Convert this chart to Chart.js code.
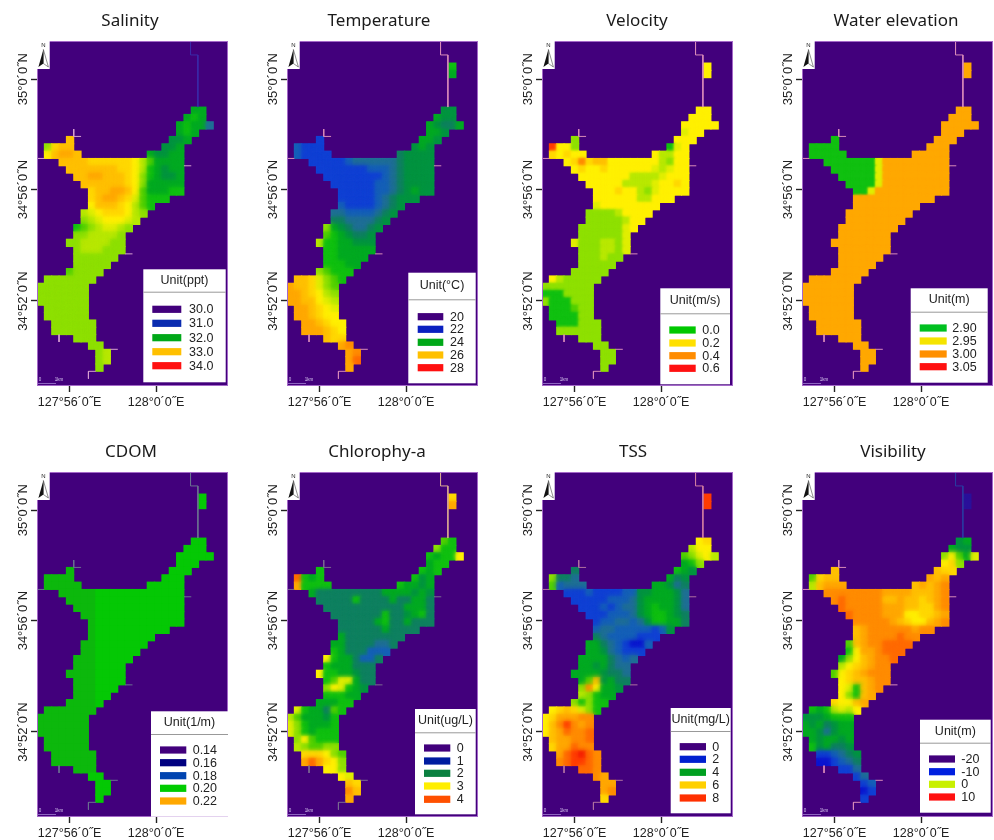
<!DOCTYPE html>
<html>
<head>
<meta charset="utf-8">
<script src="https://cdn.jsdelivr.net/npm/chart.js@4"></script>
<style>
html,body{margin:0;padding:0;background:#fff;width:994px;height:840px;overflow:hidden}
canvas{position:absolute;filter:blur(0.45px)}
</style>
</head>
<body>
<script>
const panelTitles = ['Salinity','Temperature','Velocity','Water elevation','CDOM','Chlorophy-a','TSS','Visibility'];
const lonTickCols = [4.43,16.2];
const lonTickLabels = ['127°56´0˝E','128°0´0˝E'];
const latTickRows = [5.2,20.25,35.42];
const latTickLabels = ['35°0´0˝N','34°56´0˝N','34°52´0˝N'];

// water cells: [row, firstCol, lastCol, (firstCol2, lastCol2)]
const waterSpans = [[3,22,22],[4,22,22],[9,21,22],[10,20,22],[11,19,23],[12,19,21],[13,4,4,18,20],[14,1,4,17,19],[15,1,5,15,19],
[16,3,19],[17,4,19],[18,5,19],[19,6,19],[20,7,19],[21,7,17],[22,7,15],[23,6,14],[24,6,13],[25,5,12],[26,5,11],[27,4,11],[28,5,11],
[29,5,10],[30,5,9],[31,4,8],[32,1,7],[33,0,6],[34,0,6],[35,0,6],[36,1,6],[37,1,6],[38,2,7],[39,2,7],[40,5,7],[41,7,8],[42,8,9],[43,8,9],[44,8,8]];

const salinityRows = ['.','.','HH','HIH','HIHHE','HIH','PGGH','KOPPGGH','NPQQPHGGHH',
'PPPPOOOOOONLJHHHH','PPPPPPPOONLIHGHH','PPQQPPPONKIHGGH','PPPPPPONKHHHHH','OPPQQPNJHHHII','OPQQPOMJIII','NPPPONLJI','LMNOOONLK','KLMNNNML',
'IJKLMMLK','KKLLLLK','KKLLLLKK','KLLLKKK','KKKKKK','KKKKK','JKKKK','KKKKKKK','KKKKKKK','KKKKKKK','KKKKKKK','KKKKKK','KKKKKK','KKKKKK','KKKKKK','KKK','KK','KL','KL','K'];
const temperatureRows = ['I','H','GG','HGG','HGFFH','HHG','CHHG','DCCCGHG','DCCCCFGGGG',
'CCCCCDEEEEEEFGGGG','CCCCCCCDDDEFGGGG','CCCCCCCCDEFGGGG','CCCCCCDDEFGGGG','CCCCCDDEFGHGG','CCCCCDEFGGG','DCCCCDEFG','EEDDDDEFG','FFEEEEFG',
'KHGFEEFG','JIHGFFG','LIIHHGGG','IIHHHHH','IIHHHH','IIIHH','KJIII','PPOMKJI','QPPOMKJ','QQPONLK','QQPPNML','QQPONM','QQPONN','QQPONN','QQQPON','POO','QR','QR','QS','Q'];
const velocityRows = ['N','N','NN','NNN','NNNNN','MNN','KNNN','TNNKIMN','ONONNNLLNN',
'NOROPPNNNNNNNLKNN','NONNONNNNNNMLMNN','NNNNNNNLLLLMNNN','NNNNNLLLLMNNON','NNNONNLKMNNNN','NNNNNNLLNNN','MNNNNNNNN','KKKKLNNNN','KKKKKLNN',
'KKKKKKMN','KKKKKKM','MKKKLLKM','KKKLLKM','KKKLKK','KKKKK','KKKKK','NLKKKKK','KKKKKKK','IIIKKKK','KIIIKKK','IIIJKK','IIIIKK','IIIKKK','KKKKKK','KKK','KK','KK','KK','K'];
const elevationRows = ['Q','Q','QQ','QQQ','QQQQQ','QQQ','IQQQ','IIIIQQQ','IIIIIQQQQQ',
'IIIIIIIMQQQQQQQQQ','IIIIIIMQQQQQQQQQ','IIIIIMQQQQQQQQQ','IIIIMQQQQQQQQQ','IIMQQQQQQQQQQ','QQQQQQQQQQQ','QQQQQQQQQ','QQQQQQQQQ','QQQQQQQQ',
'QQQQQQQQ','QQQQQQQ','QQQQQQQQ','QQQQQQQ','QQQQQQ','QQQQQ','QQQQQ','QQQQQQQ','QQQQQQQ','QQQQQQQ','QQQQQQQ','QQQQQQ','QQQQQQ','QQQQQQ','QQQQQQ','QQQ','QQ','QQ','QQ','Q'];
const cdomRows = ['W','W','WW','WWW','WWWWW','WWW','VWWW','VVVVWWW','VVVVVWWWWW',
'VVVVVWWWWWWWWWWWW','VVVVWWWWWWWWWWWW','VVVWWWWWWWWWWWW','VVWWWWWWWWWWWW','VWWWWWWWWWWWW','VWWWWWWWWWW','VWWWWWWWW','VVWWWWWWW','VVWWWWWW',
'VVVWWWWW','VVVWWWW','VVVVWWWW','VVVWWWW','VVVWWW','VVVWW','VVVVW','VVVVVVV','VVVVVVV','VVVVVVV','VVVVVVV','VVVVVV','VVVVVV','VVVVVV','VVVVVV','VVV','WW','WW','WW','W'];
const chlorophyllRows = ['O','Q','JI','KII','IHIIN','HII','IIHI','SIHIIGH','QIIIIIHHGH',
'HFFFFFFFFFHHHHGHG','FFFFFIFFFFHFFHHF','FFFFFFFFFFFHHHF','FFFFFFFIFFGHIF','FFFFFHIFFHFFF','FFFFFFHFFFF','HFFFFFFFF','HHFFFFEEF','IHFFFDDD',
'NIHHFDDF','IHHHFFF','NIIHHGFF','IJMMHFF','KNMIHG','IIIHH','HHHII','MIHHFJI','LJHHHGI','MKIHHHI','MKIHIII','KNJIII','LKJJKK','OOONKJ','QSQONK','NNK','NM','PO','RP','Q'];
const tssRows = ['T','T','NO','LNN','JKMNL','HIK','FIHG','KFFEHFG','JDEEEHHGEF',
'CCCDCCCCDDGGHHHGE','CCCCCDDDEGHHHHGE','CCCDCDEEGHIHHGE','CCCDDDEGHIIHGF','CDDEEDEGIIHHF','DEEDDDDDCDG','FEDDDDCCC','HHFEDCBBD','HHGEDCCC',
'HHHHFEDE','HHGHFEE','HHHHGFFE','HJPGHFF','KRNHHG','LKIHH','KIKII','NOPOMKI','NOQQQRR','NPRTRQR','NPQSRRS','PQQRRS','OQQSRR','QSTUSR','RSTTSR','SSR','RQ','QQ','QR','O'];
const visibilityRows = ['A','A','GH','HGG','KNJHM','NOK','PPOO','JOPPQPQ','LPQQQPQPQR',
'RRRRRRRRQQQQPPPQR','RSRRRRRPPQPPOPQR','SRRRRRQQQPPOOQR','SRRRRQQQNNOOPQ','RRRRRQPONNPQR','PQRRRRRRQRR','PQRRRRSRR','JPQRRSSSS','INQQRSSS',
'HKNPQRRS','LNOPQRR','JNOPQRRR','NOPPQRR','NMIPQR','NKIPQ','ONNPQ','IHILMLN','GGGHIII','HGHFGHH','HHGEGHH','HGHHGH','IGHFFG','CCDEFG','BBCDEF','CCE','CE','CD','BC','C'];

const salinityLegend = ['30.0','31.0','32.0','33.0','34.0'];
const temperatureLegend = ['20','22','24','26','28'];
const velocityLegend = ['0.0','0.2','0.4','0.6'];
const elevationLegend = ['2.90','2.95','3.00','3.05'];
const cdomLegend = ['0.14','0.16','0.18','0.20','0.22'];
const chlorophyllLegend = ['0','1','2','3','4'];
const tssLegend = ['0','2','4','6','8'];
const visibilityLegend = ['-20','-10','0','10'];

const legendUnits = ['Unit(ppt)','Unit(°C)','Unit(m/s)','Unit(m)','Unit(1/m)','Unit(ug/L)','Unit(mg/L)','Unit(m)'];

const ramp = {A:'#2a109a',B:'#0a14d0',C:'#1040d4',D:'#1560b8',E:'#1f6f96',F:'#0f8060',G:'#009440',H:'#00aa22',I:'#10c010',J:'#50d000',K:'#8ee000',
L:'#b8e800',M:'#e0ee00',N:'#fff000',O:'#ffd800',P:'#ffc000',Q:'#ffa800',R:'#ff8c00',S:'#ff6a00',T:'#ff3c00',U:'#f51a00',V:'#0cb80c',W:'#04c804'};
const mapPurple = '#42007c';

const legendColors = [
 ['#42007c','#0a2cb0','#00a818','#ffc000','#ff1010'],
 ['#42007c','#0a20c0','#00a818','#ffc000','#ff1010'],
 ['#00c800','#ffe000','#ff8c00','#ff1010'],
 ['#00c020','#f5e400','#ff9000','#ff1010'],
 ['#42007c','#000080','#0044b0','#00cc00','#ffa800'],
 ['#42007c','#001ca0','#0a8040','#ffee00','#ff5000'],
 ['#42007c','#0020d0','#00a020','#ffd000','#ff3000'],
 ['#42007c','#0020e0','#c8f000','#ff1010']
];

// river channel traces on the map grid
const topChannel = [[20.9,0],[20.9,1.9],[21.9,1.9],[21.9,9]];
const stubChannels = [[[0,16],[1,16]],[[5,12],[5,13],[6,13]],[[20,17],[21,17]],[[12,29],[13,29]],[[3,40],[3,41]],[[10,42],[11,42]],[[8,45],[7,45],[7,46]]];

const panelRows = [salinityRows,temperatureRows,velocityRows,elevationRows,cdomRows,chlorophyllRows,tssRows,visibilityRows];
const panelLegends = [salinityLegend,temperatureLegend,velocityLegend,elevationLegend,cdomLegend,chlorophyllLegend,tssLegend,visibilityLegend];

// layout
const plotLeft = [37,287,542,802,37,287,542,802];
const plotTop = [41,41,41,41,472,472,472,472];
const titleCenter = [130,379,637,896,131,377,633,893];
const blendBlur = [2.6,2.6,1.6,1.2,0.5,2,2.6,2.6];
const topChannelColor = ['#3a2aa8','#d88ab8','#d88ab8','#d88ab8','#6a7090','#d8a890','#d07ca0','#2a3aa0'];
const stubColor = ['#d8a0d0','#d88ab8','#d88ab8','#d88ab8','#6a7090','#7a6a90','#b070a0','#d88ab8'];
// legend boxes, page pixels: x0,x1,y0,y1,separator,swatchL,swatchR,labelX, row centres
const legendBoxes = [
 [143.3,225.7,269.3,382.3,291.7,152.3,181.3,189,[309.3,323.3,337.7,351.7,365.7]],
 [408.3,475.7,272.7,383.3,299.3,417.7,443.3,450,[316.7,329.3,342.3,355,367.7]],
 [660.3,730,288.3,384.3,313.3,669.3,695.7,702.3,[330,343,355.7,368.3]],
 [910.7,987.7,288.3,382.7,311.7,919.7,946.7,952.3,[328,341,354,366.7]],
 [151,228,711.3,816.7,734,160,186.3,192.7,[750,762.7,775.7,788.3,801]],
 [415,475.7,709,814.3,732.3,424,450.3,456.7,[748,761,773.3,786,799.3]],
 [670.7,730.7,708,813.3,731,679.7,706,712.3,[746.7,759.3,772.3,785,798]],
 [920,990.7,719.7,812.7,742.7,929,955,961.3,[759,771.7,784.3,797]]
];

const fontSans = '"Liberation Sans", Arial, sans-serif';
const titleFont = '"Noto Sans", sans-serif';

function cellsFor(rows){
  const pts=[];
  waterSpans.forEach((span,i)=>{
    const s=rows[i]||''; let k=0; const r=span[0];
    for(let j=1;j<span.length;j+=2){
      for(let c=span[j];c<=span[j+1];c++){
        const code=s[Math.min(k,s.length-1)]; k++;
        if(code && code!=='.') pts.push({x:c+0.5,y:r+0.5,code});
      }
    }
  });
  return pts;
}
function pathData(list){
  const out=[];
  list.forEach(seg=>{seg.forEach(p=>out.push({x:p[0],y:p[1]}));out.push({x:NaN,y:NaN});});
  return out;
}

const furniture = {
  id:'furniture',
  afterLayout(chart){
    const o=chart.options.plugins.furniture, t=chart.titleBlock;
    const cx=titleCenter[o.i]-o.canvasLeft;
    t.left=cx-100;t.right=cx+100;t.width=200;
  },
  beforeDatasetsDraw(chart){
    const a=chart.chartArea,c=chart.ctx;
    c.save();c.fillStyle=mapPurple;c.fillRect(a.left,a.top,a.right-a.left,a.bottom-a.top);c.restore();
  },
  // the second pass of the cells is softened and kept inside the water cells
  beforeDatasetDraw(chart,args){
    if(args.meta.label!=='blend')return;
    const o=chart.options.plugins.furniture,c=chart.ctx,sx=chart.scales.x,sy=chart.scales.y;
    c.save();
    c.beginPath();
    chart.data.datasets[args.index].data.forEach(p=>{
      const x0=sx.getPixelForValue(p.x-.5),x1=sx.getPixelForValue(p.x+.5),y0=sy.getPixelForValue(p.y-.5),y1=sy.getPixelForValue(p.y+.5);
      c.rect(x0,y0,x1-x0,y1-y0);
    });
    c.clip();
    c.filter='blur('+blendBlur[o.i]+'px)';
  },
  afterDatasetDraw(chart,args){
    if(args.meta.label==='blend')chart.ctx.restore();
  },
  afterDatasetsDraw(chart){
    const o=chart.options.plugins.furniture,a=chart.chartArea,c=chart.ctx,i=o.i;
    const ox=o.canvasLeft,oy=o.canvasTop;
    c.save();
    // plot frame
    c.strokeStyle='#a468c8';c.lineWidth=1;c.strokeRect(a.left+.5,a.top+.5,a.right-a.left-1,a.bottom-a.top-1);
    // north arrow box
    c.fillStyle='#fff';c.fillRect(a.left,a.top,12.7,28);
    c.fillStyle='#222';c.font='6px '+fontSans;c.textAlign='center';c.textBaseline='middle';
    c.fillText('N',a.left+6.5,a.top+4.5);
    const ax=a.left+6.4,ay=a.top+8.5;
    c.beginPath();c.moveTo(ax,ay);c.lineTo(ax-5,ay+17.5);c.lineTo(ax,ay+14);c.closePath();c.fillStyle='#111';c.fill();
    c.beginPath();c.moveTo(ax,ay);c.lineTo(ax+5,ay+17.5);c.lineTo(ax,ay+14);c.closePath();c.strokeStyle='#444';c.lineWidth=.6;c.stroke();
    // scale bar
    c.fillStyle='#d8c8f0';c.font='4.5px '+fontSans;
    c.fillText('0',a.left+3,a.bottom-6);c.fillText('1km',a.left+22,a.bottom-6);
    c.strokeStyle='#b090e0';c.lineWidth=.7;c.beginPath();c.moveTo(a.left+1,a.bottom-2.5);c.lineTo(a.left+19,a.bottom-2.5);c.stroke();
    // legend
    const b=legendBoxes[i],labels=panelLegends[i],cols=legendColors[i];
    c.fillStyle='#fff';c.fillRect(b[0]-ox,b[2]-oy,b[1]-b[0],b[3]-b[2]);
    c.strokeStyle='#999';c.lineWidth=1;c.beginPath();c.moveTo(b[0]-ox,b[4]-oy+.5);c.lineTo(b[1]-ox,b[4]-oy+.5);c.stroke();
    c.fillStyle='#222';c.font='12.5px '+fontSans;c.textAlign='center';c.textBaseline='middle';
    c.fillText(legendUnits[i],(b[0]+b[1])/2-ox,(b[2]+b[4])/2-oy);
    c.textAlign='left';
    labels.forEach((l,k)=>{
      const y=b[8][k]-oy;
      c.fillStyle=cols[k];c.fillRect(b[5]-ox,y-3.6,b[6]-b[5],7.2);
      c.fillStyle='#222';c.fillText(l,b[7]-ox,y+.5);
    });
    c.restore();
  }
};

panelTitles.forEach((title,i)=>{
  const canvasLeft=plotLeft[i]-37,canvasTop=plotTop[i]-40;
  const cv=document.createElement('canvas');
  cv.width=230;cv.height=418;
  cv.style.left=canvasLeft+'px';cv.style.top=canvasTop+'px';
  cv.style.width='230px';cv.style.height='418px';
  document.body.appendChild(cv);
  const cells=cellsFor(panelRows[i]);
  const cellStyle={pointStyle:'rect',borderWidth:0,pointBorderWidth:0,
       pointBackgroundColor:ctx=>ramp[(ctx.raw||{}).code]||mapPurple,
       pointRadius:ctx=>{const s=ctx.chart.scales.x;return (Math.abs(s.getPixelForValue(1)-s.getPixelForValue(0))+1)/Math.SQRT2;},
       pointHoverRadius:0};
  new Chart(cv,{
    type:'scatter',
    plugins:[furniture],
    data:{datasets:[
      Object.assign({label:title,data:cells,order:3},cellStyle),
      Object.assign({label:'blend',data:cells,order:2},cellStyle),
      {label:'channel',data:pathData([topChannel]),showLine:true,pointRadius:0,borderColor:topChannelColor[i],borderWidth:1,spanGaps:false,order:1},
      {label:'stubs',data:pathData(stubChannels),showLine:true,pointRadius:0,borderColor:stubColor[i],borderWidth:1,spanGaps:false,order:1}
    ]},
    options:{
      responsive:false,animation:false,devicePixelRatio:1,
      events:[],
      layout:{padding:{left:0,right:2,top:0,bottom:0}},
      plugins:{
        legend:{display:false},tooltip:{enabled:false},
        title:{display:true,text:title,color:'#1a1a1a',font:{family:titleFont,size:17,weight:'normal',lineHeight:1.2},padding:{top:9.5,bottom:10.1}},
        furniture:{i,canvasLeft,canvasTop}
      },
      scales:{
        x:{type:'linear',min:0,max:26,
          grid:{display:true,drawOnChartArea:false,drawTicks:true,tickLength:6,tickColor:'#222',tickWidth:1.4},
          border:{display:false},
          afterBuildTicks:s=>{s.ticks=lonTickCols.map(v=>({value:v}));},
          afterFit:s=>{s.height=33;},
          ticks:{autoSkip:false,maxRotation:0,minRotation:0,padding:3,color:'#222',font:{family:fontSans,size:12.5},
            callback:(v)=>lonTickLabels[lonTickCols.indexOf(v)]}},
        y:{type:'linear',min:0,max:47,reverse:true,
          grid:{display:true,drawOnChartArea:false,drawTicks:true,tickLength:6,tickColor:'#222',tickWidth:1.4},
          border:{display:false},
          afterBuildTicks:s=>{s.ticks=latTickRows.map(v=>({value:v}));},
          afterFit:s=>{s.width=37;},
          ticks:{autoSkip:false,minRotation:90,maxRotation:90,crossAlign:'center',padding:-22,color:'#222',font:{family:fontSans,size:13},
            callback:(v)=>latTickLabels[latTickRows.indexOf(v)]}}
      }
    }
  });
});
</script>
</body>
</html>
